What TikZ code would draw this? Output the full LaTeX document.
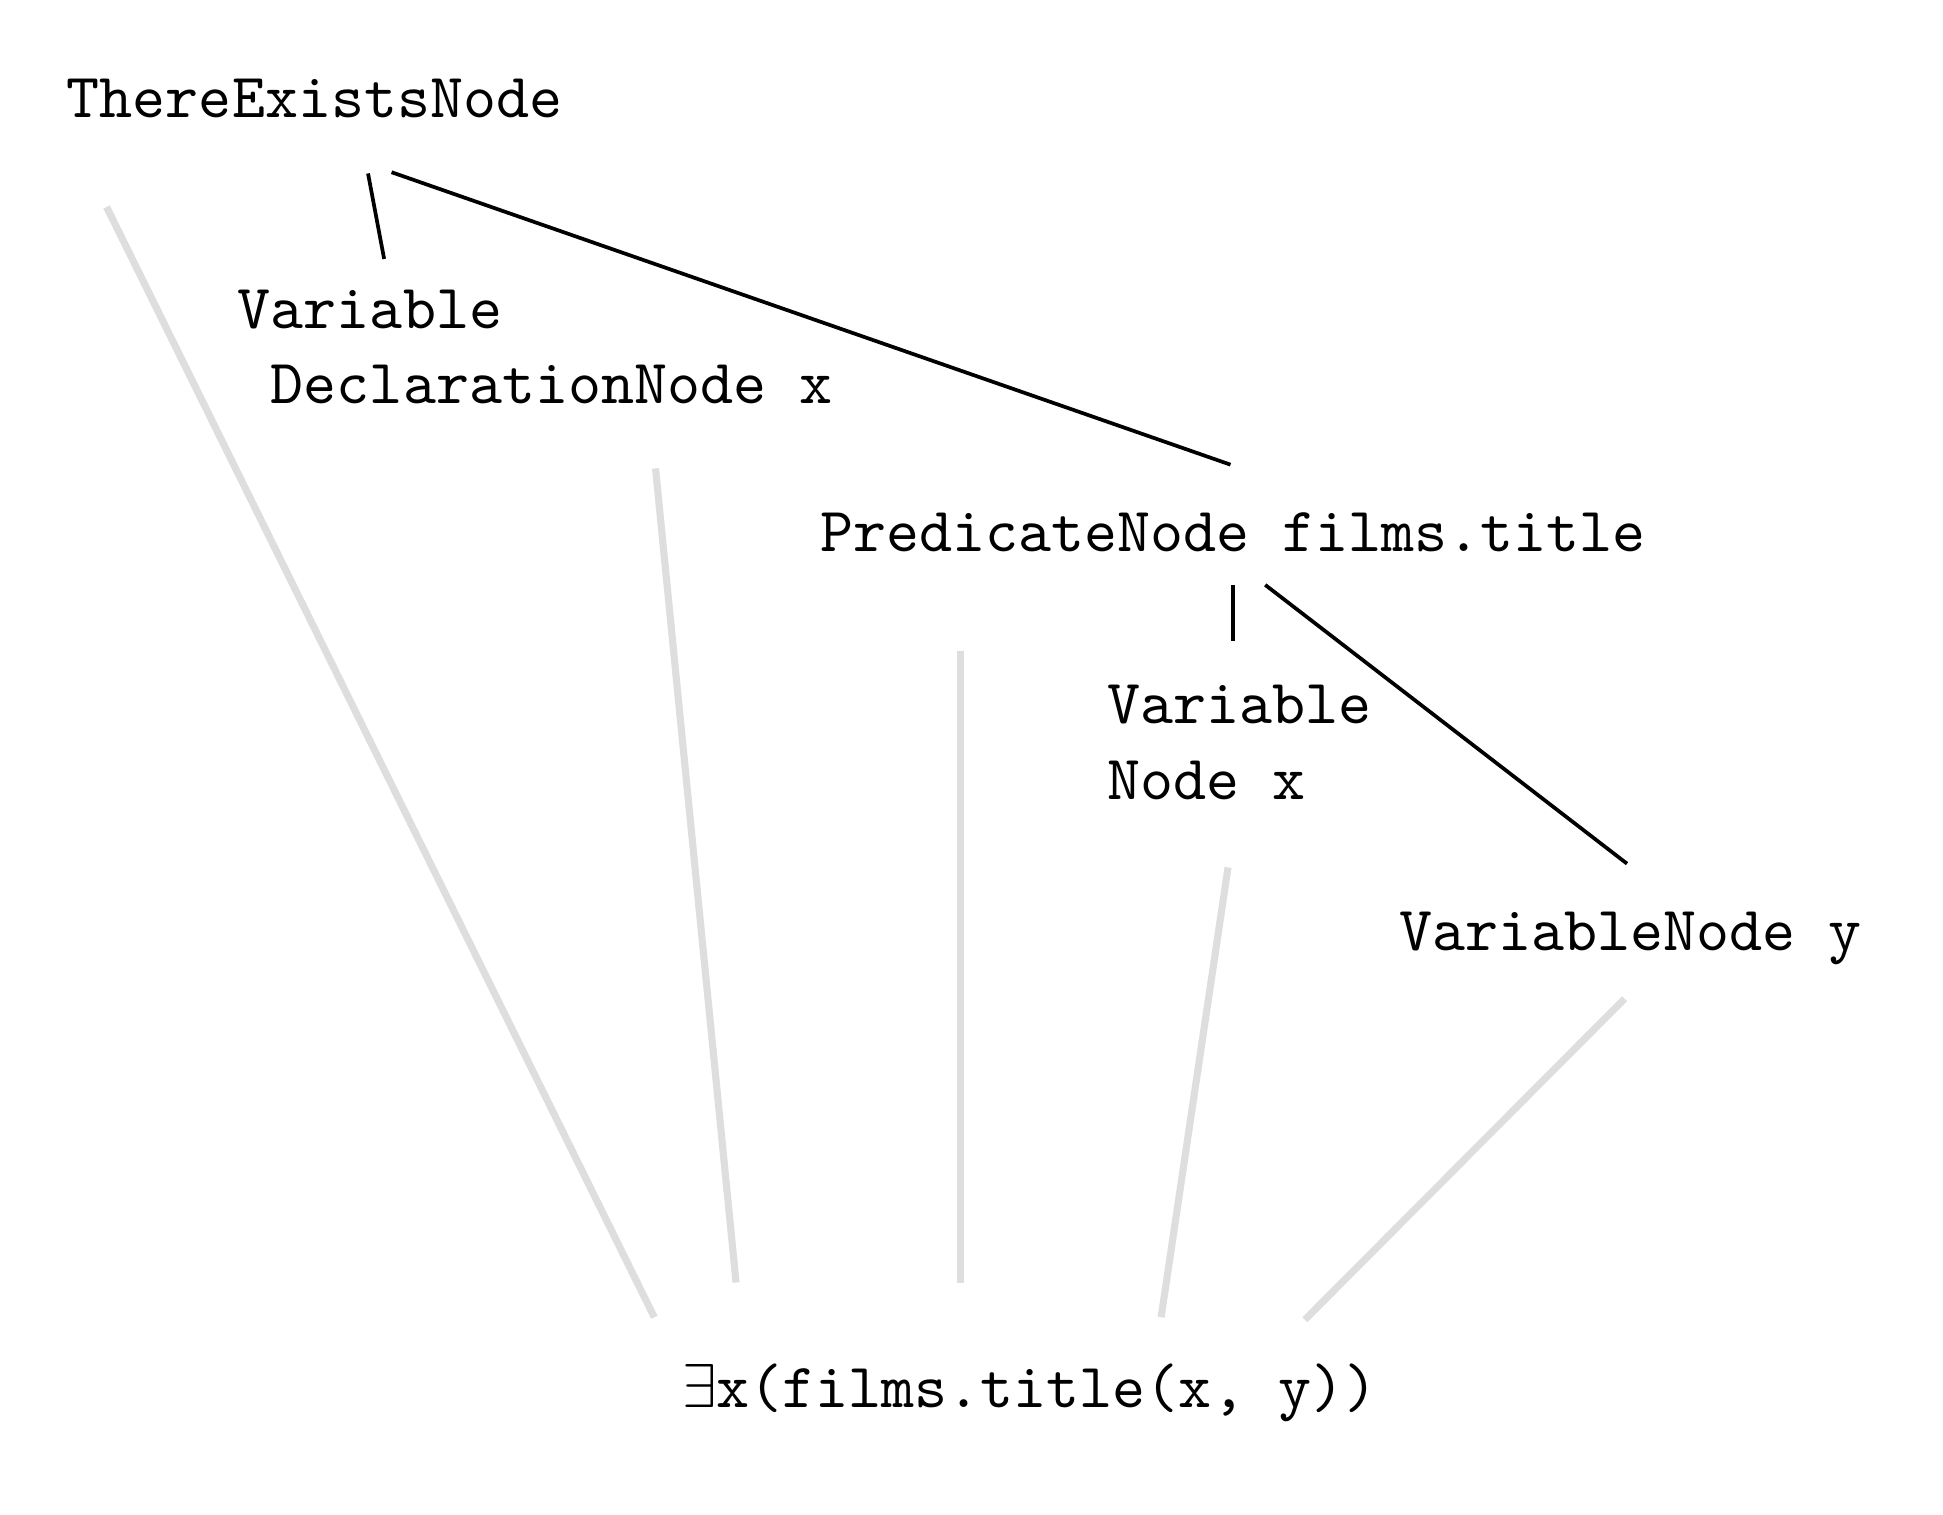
\documentclass[tikz,border=0pt]{standalone}
\begin{document}
\begin{tikzpicture}[x=0.2pt,y=-0.2pt,
  lbl/.style={inner sep=0pt,outer sep=0pt,anchor=base west,align=left,
    font=\ttfamily\fontsize{10.15}{12.15}\selectfont},
  tree/.style={draw=black,line width=0.6pt},
  map/.style={draw=black!13,line width=1.15pt}]
\useasboundingbox (0,0) rectangle (1568,1222);
% nodes (multi-line nodes anchored at the baseline of their last line)
\node[lbl] (te) at (54,95) {ThereExistsNode};
\node[lbl] (vd) at (192,326) {Variable\\\hspace*{0.525em}DeclarationNode x};
\node[lbl] (pn) at (662,445) {PredicateNode films.title};
\node[lbl] (vx) at (894,645) {Variable\\Node x};
\node[lbl] (vy) at (1129,767) {VariableNode y};
\node[lbl] (fo) at (551,1136) {\makebox[0.54em][l]{$\exists$}x(films.title(x, y))};
% tree connector ends
\coordinate (te-a) at (297,140); \coordinate (vd-a) at (310,209);
\coordinate (te-b) at (316,139); \coordinate (pn-a) at (993,375);
\coordinate (pn-b) at (995,472); \coordinate (vx-a) at (995,517);
\coordinate (pn-c) at (1021,472); \coordinate (vy-a) at (1313,697);
% mapping connector ends
\coordinate (te-m) at (86,167);   \coordinate (fo-1) at (528,1063);
\coordinate (vd-m) at (529,378);  \coordinate (fo-2) at (594,1035);
\coordinate (pn-m) at (775,525);  \coordinate (fo-3) at (775,1035);
\coordinate (vx-m) at (991,700);  \coordinate (fo-4) at (937,1063);
\coordinate (vy-m) at (1311,806); \coordinate (fo-5) at (1053,1065);
% tree edges
\draw[tree] (te-a) -- (vd-a);
\draw[tree] (te-b) -- (pn-a);
\draw[tree] (pn-b) -- (vx-a);
\draw[tree] (pn-c) -- (vy-a);
% mapping edges
\draw[map] (te-m) -- (fo-1);
\draw[map] (vd-m) -- (fo-2);
\draw[map] (pn-m) -- (fo-3);
\draw[map] (vx-m) -- (fo-4);
\draw[map] (vy-m) -- (fo-5);
\end{tikzpicture}
\end{document}
